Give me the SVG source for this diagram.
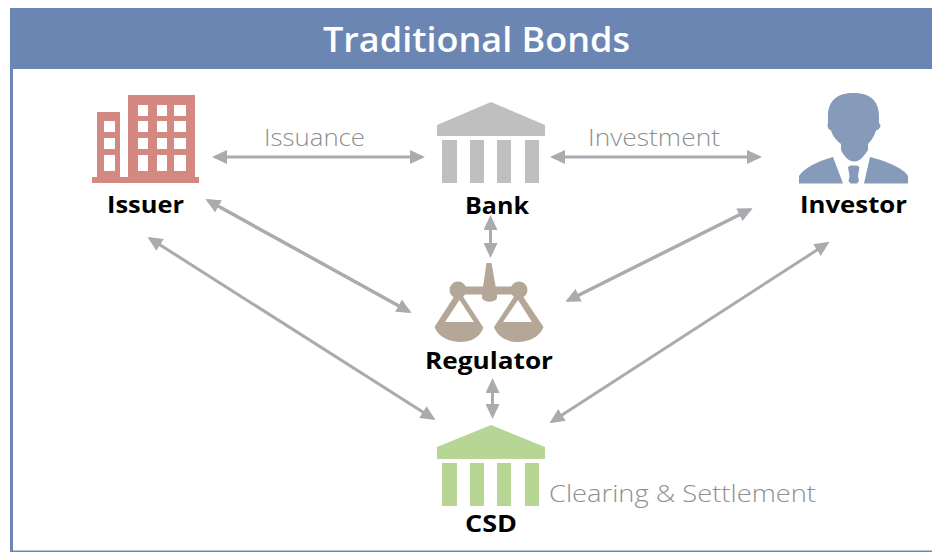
<svg xmlns="http://www.w3.org/2000/svg" width="932" height="552" viewBox="0 0 932 552">
<defs>
<marker id="head" viewBox="0 0 15 14" markerUnits="userSpaceOnUse" markerWidth="15" markerHeight="14" refX="12" refY="7" orient="auto-start-reverse"><path d="M0 0L15 7L0 14Z" fill="#a9abae"/></marker>
</defs>
<style>
text{font-family:"Open Sans","Noto Sans","Liberation Sans",sans-serif;text-anchor:middle}
.name{font-size:23px;font-weight:700;fill:#000}
.edge{font-size:23px;fill:#8f8f8f;font-weight:300}
.conn{fill:none;stroke:#a9abae;stroke-width:3;marker-start:url(#head);marker-end:url(#head)}
.win{fill:#fff}
</style>
<rect width="932" height="552" fill="#fff"/>
<g id="frame">
<rect x="10" y="8" width="922" height="61" fill="#6b86b3"/>
<rect x="10" y="8" width="3" height="543" fill="#6b86b3"/>
<rect x="10" y="550.500" width="922" height="1.500" fill="#6b86b3"/>
<text x="476.500" y="52" font-size="35" font-weight="600" fill="#fff" textLength="307" lengthAdjust="spacingAndGlyphs">Traditional Bonds</text>
</g>
<g id="connectors">
<line class="conn" x1="215" y1="157" x2="422" y2="157"/>
<line class="conn" x1="553" y1="157" x2="759" y2="157"/>
<line class="conn" x1="490.500" y1="218" x2="490.500" y2="255"/>
<line class="conn" x1="208" y1="200.500" x2="409" y2="311.500" style="stroke-width:3.500"/>
<line class="conn" x1="150" y1="238.500" x2="433" y2="418.500"/>
<line class="conn" x1="492.500" y1="381" x2="492.500" y2="416"/>
<line class="conn" x1="750" y1="209.500" x2="568" y2="300.500" style="stroke-width:3.500"/>
<line class="conn" x1="827" y1="243.500" x2="552" y2="421.500"/>
</g>
<g id="issuer">
<path fill="#d38982" d="M97 112H120V177H128V95H195V177H199V183H92V177H97Z"/>
<path class="win" d="M104 121h11v11h-11zM104 138h11v11h-11zM104 155h11v16h-11zM138 105h10v11h-10zM157 105h10v11h-10zM174 105h12v11h-12zM138 121h10v11h-10zM157 121h10v11h-10zM174 121h12v11h-12zM138 138h10v11h-10zM157 138h10v11h-10zM174 138h12v11h-12zM138 155h10v16h-10zM157 155h10v16h-10zM174 155h12v16h-12z"/>
<text class="name" x="145.500" y="212.500" textLength="77" lengthAdjust="spacingAndGlyphs">Issuer</text>
</g>
<g id="bank" fill="#bfbfbf">
<path d="M491 102L545 125V136H437V125Z"/>
<path d="M442 140h15v43h-15zM470 140h14v43h-14zM497 140h14v43h-14zM525 140h14v43h-14z"/>
<text class="name" x="497" y="213.500" textLength="64" lengthAdjust="spacingAndGlyphs">Bank</text>
</g>
<g id="investor" fill="#859bb9">
<path d="M828 116C828 100 838 93 853.500 93C869 93 879 100 879 116V123L880.500 125C880.500 128 878.500 130 876 130.500C874 137 871 141 868 144V150C864 156 860 161.500 854.500 161.500C848 161.500 844 156 841 150V144C837 141 833 137 831 130.500C829 130 827.500 128 827.500 125L828 123Z"/>
<path d="M833 157L843 183.500H799V176C804 168 818 161 833 157Z"/>
<path d="M870 157C886 161 903 168 908 176V183.500H864Z"/>
<path d="M848 167L850.500 165.500H857L859.500 167L858 176L859 181L857 183.500H850.500L848.500 181L849.500 176Z"/>
<text class="name" x="853.500" y="212.500" textLength="107" lengthAdjust="spacingAndGlyphs">Investor</text>
</g>
<g id="regulator" fill="#b5a797">
<path d="M486.500 263H491.500L497 294V298C495 303 484 303 482 298V294Z"/>
<rect x="458" y="286.500" width="61" height="8"/>
<circle cx="458" cy="290" r="8.500"/>
<circle cx="519" cy="290" r="8.500"/>
<path d="M457 292L460 292L483 327H434.500Z"/>
<path d="M517 292L520 292L543.500 327H494Z"/>
<path d="M434.500 327C438 337 450 342 460 342C472 342 481 336 483.500 327Z"/>
<path d="M494 327C497 336 506 342 518 342C528 342 540 337 543.500 327Z"/>
<path class="win" d="M459.500 300L445 322H474ZM518 300L503 322H532Z"/>
<text class="name" x="489" y="368.500" textLength="128" lengthAdjust="spacingAndGlyphs">Regulator</text>
</g>
<g id="csd" fill="#b7d696">
<path d="M491 425L545 447V459H437V447Z"/>
<path d="M442 463h15v43h-15zM470 463h14v43h-14zM497 463h14v43h-14zM525 463h14v43h-14z"/>
<text class="name" x="491" y="532" textLength="52" lengthAdjust="spacingAndGlyphs">CSD</text>
</g>
<g id="labels">
<text class="edge" x="314.500" y="146" textLength="101" lengthAdjust="spacingAndGlyphs">Issuance</text>
<text class="edge" x="654" y="146" textLength="132" lengthAdjust="spacingAndGlyphs">Investment</text>
<text class="edge" x="682.500" y="502" textLength="267" lengthAdjust="spacingAndGlyphs">Clearing &amp; Settlement</text>
</g>
</svg>
